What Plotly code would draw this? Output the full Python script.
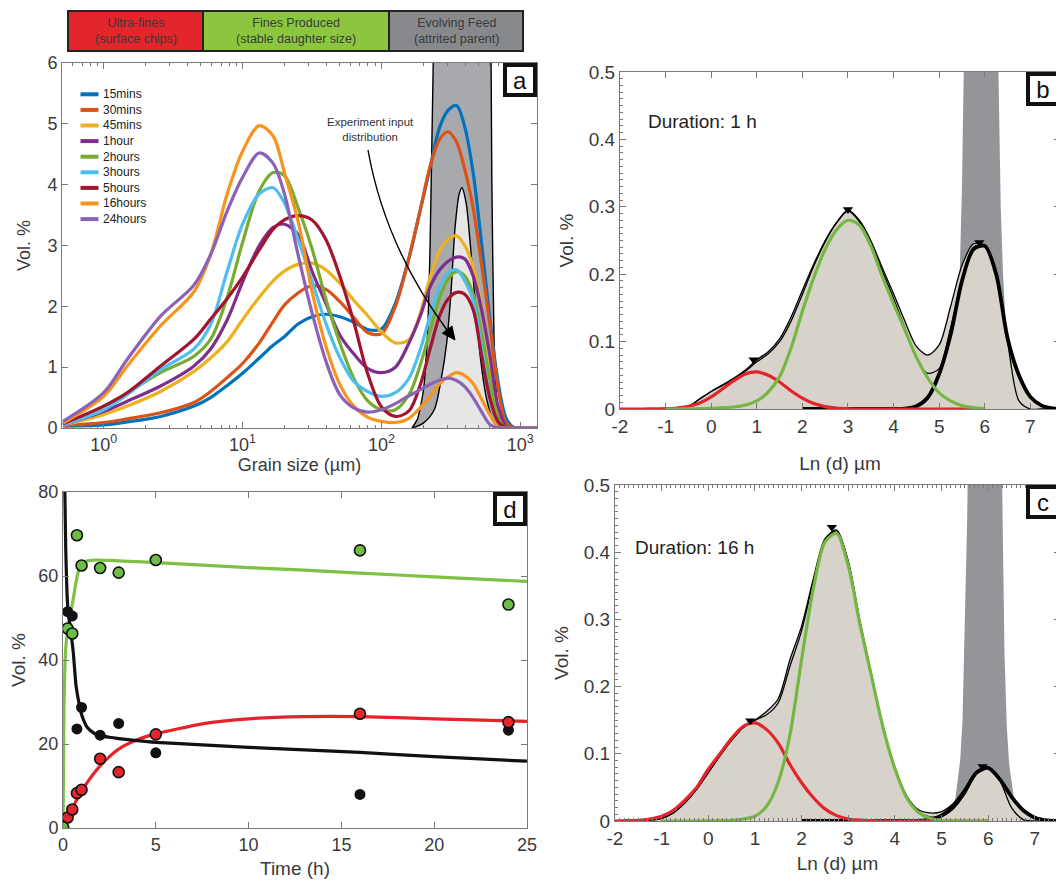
import plotly.graph_objects as go

# ---------------- Panel a : grain size distributions ----------------
GRAIN_UM = [0.51, 1.0, 1.48, 2.57, 4.47, 5.89, 7.76, 10.0, 13.2, 16.6, 20.0, 25.1, 31.6, 39.8, 50.1,
            63.1, 79.4, 100, 126, 158, 191, 224, 263, 302, 347, 398, 457, 525, 603, 692, 794, 912, 1318]
SERIES_NAMES = ["15mins", "30mins", "45mins", "1hour", "2hours", "3hours", "5hours", "16hours", "24hours"]
SERIES_COLORS = ["#0072BD", "#D95319", "#EDB120", "#7E2F8E", "#77AC30", "#4DBEEE", "#A2142F", "#F7941D", "#8B62B5"]
VOL_15MIN = [0.03, 0.05, 0.1, 0.19, 0.36, 0.5, 0.7, 0.9, 1.15, 1.36, 1.5, 1.71, 1.83, 1.87, 1.83, 1.74, 1.62, 1.63,
             2.05, 2.8, 3.6, 4.28, 4.95, 5.22, 5.3, 4.95, 4.2, 3.05, 1.8, 0.75, 0.15, 0.0, 0.0]
VOL_30MIN = [0.04, 0.09, 0.15, 0.25, 0.42, 0.6, 0.83, 1.06, 1.4, 1.75, 2.02, 2.22, 2.34, 2.28, 2.08, 1.82, 1.57, 1.55,
             2.0, 2.8, 3.6, 4.3, 4.75, 4.87, 4.7, 4.25, 3.62, 2.7, 1.7, 0.65, 0.08, 0.0, 0.0]
VOL_45MIN = [0.05, 0.22, 0.36, 0.6, 0.93, 1.15, 1.42, 1.78, 2.15, 2.42, 2.58, 2.69, 2.71, 2.6, 2.38, 2.1, 1.85, 1.58,
             1.4, 1.45, 1.9, 2.48, 2.92, 3.1, 3.16, 3.0, 2.65, 2.0, 1.1, 0.3, 0.03, 0.0, 0.0]
VOL_1H = [0.05, 0.27, 0.44, 0.69, 1.02, 1.3, 1.78, 2.4, 3.0, 3.3, 3.35, 3.18, 2.58, 2.05, 1.53, 1.22, 0.98, 0.91,
          1.0, 1.4, 1.85, 2.32, 2.6, 2.74, 2.81, 2.78, 2.5, 1.95, 1.2, 0.35, 0.03, 0.0, 0.0]
VOL_2H = [0.05, 0.36, 0.58, 0.91, 1.18, 1.46, 2.15, 3.05, 3.9, 4.2, 4.15, 3.62, 2.95, 2.12, 1.4, 0.82, 0.45, 0.3,
          0.3, 0.55, 1.05, 1.6, 2.15, 2.45, 2.57, 2.5, 2.2, 1.55, 0.8, 0.15, 0.01, 0.0, 0.0]
VOL_3H = [0.05, 0.3, 0.55, 0.96, 1.3, 1.7, 2.58, 3.35, 3.85, 3.95, 3.7, 3.1, 2.42, 1.72, 1.16, 0.77, 0.6, 0.52,
          0.58, 0.82, 1.3, 1.85, 2.32, 2.55, 2.6, 2.42, 2.1, 1.35, 0.5, 0.05, 0.0, 0.0, 0.0]
VOL_5H = [0.07, 0.36, 0.58, 1.02, 1.46, 1.79, 2.13, 2.48, 2.93, 3.27, 3.42, 3.49, 3.42, 3.1, 2.5, 1.75, 0.9, 0.35,
          0.19, 0.28, 0.72, 1.3, 1.85, 2.12, 2.23, 2.2, 1.95, 1.2, 0.5, 0.1, 0.01, 0.0, 0.0]
VOL_16H = [0.08, 0.52, 1.02, 1.68, 2.24, 2.85, 3.85, 4.55, 4.97, 4.8, 4.2, 3.4, 2.25, 1.35, 0.72, 0.36, 0.18, 0.11,
           0.09, 0.16, 0.34, 0.52, 0.73, 0.84, 0.91, 0.86, 0.73, 0.48, 0.22, 0.02, 0.0, 0.0, 0.0]
VOL_24H = [0.11, 0.58, 1.13, 1.84, 2.35, 2.85, 3.57, 4.12, 4.52, 4.35, 3.85, 2.85, 1.9, 1.1, 0.55, 0.33, 0.26, 0.3,
           0.4, 0.53, 0.63, 0.72, 0.79, 0.82, 0.78, 0.68, 0.5, 0.27, 0.06, 0.0, 0.0, 0.0, 0.0]
SERIES_VALUES = [VOL_15MIN, VOL_30MIN, VOL_45MIN, VOL_1H, VOL_2H, VOL_3H, VOL_5H, VOL_16H, VOL_24H]

FEED_UM = [166, 182, 200, 214, 224, 234, 245, 282, 398, 550, 603, 624, 646, 676, 724, 759]
FEED_VOL = [0, 0.15, 0.6, 1.5, 3, 5.5, 7.5, 8.5, 9, 8.5, 7.5, 4, 1.5, 0.5, 0.05, 0]
INPUT_UM = [166, 200, 240, 269, 295, 316, 339, 363, 380, 407, 437, 468, 513, 575, 646, 724]
INPUT_VOL = [0, 0.08, 0.3, 0.8, 1.4, 2.2, 3.3, 3.85, 3.95, 3.7, 3.0, 2.2, 1.2, 0.45, 0.1, 0]
LOG_MINOR_TICKS = [0.6, 0.7, 0.8, 0.9, 2, 3, 4, 5, 6, 7, 8, 9, 20, 30, 40, 50, 60, 70, 80, 90,
                   200, 300, 400, 500, 600, 700, 800, 900]

# ---------------- Panels b, c : Ln(d) decompositions ----------------
X_LN = [-2.0, -1.75, -1.5, -1.25, -1.0, -0.75, -0.5, -0.25, 0.0, 0.25, 0.5, 0.75, 1.0, 1.25, 1.5, 1.75, 2.0,
        2.25, 2.5, 2.75, 3.0, 3.25, 3.5, 3.75, 4.0, 4.25, 4.5, 4.75, 5.0, 5.25, 5.5, 5.75, 6.0, 6.25, 6.5,
        6.75, 7.0, 7.25, 7.5, 7.75]
N = None
RED_B = [0, 0, 0, 0.0002, 0.0005, 0.0015, 0.004, 0.009, 0.018, 0.03, 0.042, 0.052, 0.055, 0.05, 0.04, 0.027,
         0.016, 0.008, 0.0035, 0.0012, 0.0003, 0, 0, 0, 0, 0, 0, 0, 0, 0, 0, 0, 0, N, N, N, N, N, N, N]
GREEN_B = [N, N, N, N, 0, 0, 0.0002, 0.0005, 0.001, 0.002, 0.003, 0.006, 0.012, 0.025, 0.048, 0.09, 0.145,
           0.195, 0.237, 0.266, 0.28, 0.273, 0.242, 0.197, 0.156, 0.117, 0.077, 0.046, 0.024, 0.012, 0.005,
           0.002, 0.0005, N, N, N, N, N, N, N]
BLACK_B = [N, N, N, N, N, N, N, N, N, N, N, N, N, N, N, N, 0, 0, 0, 0, 0, 0, 0, 0, 0, 0.0005, 0.004, 0.017,
           0.052, 0.11, 0.19, 0.237, 0.242, 0.2, 0.105, 0.05, 0.018, 0.005, 0.001, 0]
ENV_B1 = [0, 0, 0, 0, 0.0005, 0.002, 0.004, 0.015, 0.026, 0.036, 0.046, 0.058, 0.073, 0.085, 0.104, 0.136,
          0.176, 0.215, 0.25, 0.277, 0.295, 0.28, 0.25, 0.21, 0.171, 0.13, 0.093, 0.08, 0.095, 0.152, 0.213,
          0.245, 0.242, 0.2, 0.105, 0.05, 0.018, 0.005, 0.001, 0]
ENV_B2 = [0, 0, 0, 0, 0.0005, 0.002, 0.004, 0.015, 0.026, 0.035, 0.044, 0.056, 0.07, 0.082, 0.1, 0.13, 0.17,
          0.212, 0.248, 0.276, 0.294, 0.278, 0.245, 0.205, 0.164, 0.12, 0.075, 0.053, 0.06, 0.12, 0.19, 0.24,
          0.242, 0.2, 0.1, 0.012, 0, 0, 0, 0]
PEAKS_B_X = [0.93, 3.0, 5.88]
PEAKS_B_Y = [0.073, 0.296, 0.247]
BAND_B_X = [5.1, 5.2, 5.3, 5.4, 5.45, 5.5, 5.55, 5.6, 5.75, 5.92, 6.1, 6.25, 6.3, 6.35, 6.4, 6.45, 6.5, 6.6, 6.7, 6.8]
BAND_B_Y = [0, 0.01, 0.05, 0.14, 0.2, 0.33, 0.55, 0.8, 1.0, 1.05, 1.0, 0.8, 0.5, 0.3, 0.2, 0.14, 0.1, 0.04, 0.01, 0]

RED_C = [0, 0.0005, 0.001, 0.003, 0.007, 0.016, 0.031, 0.05, 0.077, 0.1, 0.123, 0.141, 0.146, 0.136, 0.116,
         0.084, 0.057, 0.035, 0.018, 0.008, 0.003, 0.0015, 0.0005, 0, 0, 0, 0, 0, 0, 0, 0, 0, 0,
         N, N, N, N, N, N, N]
GREEN_C = [N, N, N, N, 0, 0, 0, 0, 0.0002, 0.0005, 0.001, 0.003, 0.007, 0.022, 0.058, 0.128, 0.24, 0.345,
           0.415, 0.428, 0.38, 0.293, 0.215, 0.138, 0.078, 0.035, 0.013, 0.004, 0.001, 0, 0, 0, 0,
           N, N, N, N, N, N, N]
BLACK_C = [N, N, N, N, N, N, N, N, N, N, N, N, N, N, N, N, 0, 0, 0, 0, 0, 0, 0, 0, 0, 0, 0, 0.002, 0.008,
           0.022, 0.045, 0.072, 0.079, 0.062, 0.036, 0.016, 0.005, 0.001, 0, 0]
ENV_C1 = [0, 0, 0, 0.001, 0.004, 0.012, 0.027, 0.047, 0.072, 0.097, 0.12, 0.139, 0.15, 0.163, 0.182, 0.24,
          0.29, 0.36, 0.42, 0.433, 0.387, 0.298, 0.218, 0.14, 0.08, 0.038, 0.017, 0.012, 0.014, 0.026, 0.048,
          0.074, 0.08, 0.064, 0.038, 0.017, 0.006, 0.002, 0, 0]
ENV_C2 = [0, 0, 0, 0.001, 0.004, 0.012, 0.027, 0.047, 0.072, 0.097, 0.12, 0.139, 0.15, 0.158, 0.176, 0.23,
          0.283, 0.355, 0.418, 0.432, 0.385, 0.296, 0.216, 0.138, 0.079, 0.037, 0.014, 0.006, 0.007, 0.018,
          0.04, 0.07, 0.079, 0.06, 0.02, 0.002, 0, 0, 0, 0]
PEAKS_C_X = [0.9, 2.65, 5.88]
PEAKS_C_Y = [0.149, 0.437, 0.081]
BAND_C_X = [5.1, 5.2, 5.3, 5.4, 5.45, 5.5, 5.55, 5.6, 5.75, 5.93, 6.1, 6.25, 6.3, 6.35, 6.4, 6.45, 6.5, 6.55,
            6.6, 6.65, 6.7]
BAND_C_Y = [0, 0.005, 0.035, 0.09, 0.15, 0.28, 0.45, 0.7, 0.95, 1.0, 0.95, 0.7, 0.5, 0.25, 0.14, 0.085, 0.06,
            0.035, 0.012, 0.002, 0]

# ---------------- Panel d : time evolution ----------------
TIME_PTS = [0, 0.25, 0.5, 0.75, 1, 2, 3, 5, 16, 24]
FINES_PTS = [0.2, 47.5, 46.3, 69.7, 62.5, 61.9, 60.8, 63.8, 66.1, 53.2]
ULTRA_PTS = [0, 2.5, 4.4, 8.3, 9.1, 16.5, 13.3, 22.3, 27.2, 25.2]
FEED_PTS = [100, 51.5, 50.5, 23.6, 28.7, 22.1, 24.9, 17.9, 8.0, 23.3]
T_FIT = [0, 0.05, 0.1, 0.15, 0.25, 0.4, 0.55, 0.7, 0.85, 1.0, 1.3, 1.7, 2.0, 2.5, 3, 4, 5, 7.5, 10, 13, 16, 20, 25]
FEED_FIT = [100, 92, 80, 66, 53, 47.5, 42, 34, 30, 27, 24, 22.5, 22, 21.6, 21.3, 20.8, 20.4, 19.8, 19.2, 18.6,
            18.0, 17.0, 15.9]
FINES_FIT = [0, 28, 38, 43, 47, 51, 54.5, 58.5, 61.5, 63.0, 63.6, 63.8, 63.8, 63.7, 63.6, 63.4, 63.2, 62.6,
             62.0, 61.4, 60.7, 59.8, 58.7]
ULTRA_FIT = [0, 0.5, 1.0, 1.6, 2.6, 3.9, 5.1, 6.4, 7.6, 8.8, 10.8, 13.2, 14.8, 17.0, 18.8, 21.0, 22.4, 24.8,
             26.0, 26.5, 26.5, 26.0, 25.4]

# ---------------- Category bar ----------------
CATEGORY_LABELS = ["Ultra-fines<br>(surface chips)", "Fines Produced<br>(stable daughter size)",
                   "Evolving Feed<br>(attrited parent)"]
CATEGORY_COLORS = ["#E2262B", "#8CC63F", "#88898C"]

# page is 1064x881; the html body adds an 8 px margin, so the figure is 8 px smaller each way
PAGE_OFF = 8
W, H = 1064 - PAGE_OFF, 881 - PAGE_OFF
FONT = "Liberation Sans, Arial, Helvetica, sans-serif"
TXT = "#3a3a3a"
RED = "#E5232A"
GREEN = "#74B843"
BEIGE = "#D7D3CB"
BAND = "#939598"

fig = go.Figure()

# ---- panel a traces
fig.add_trace(go.Scatter(x=FEED_UM, y=FEED_VOL, mode="lines", fill="tozeroy", fillcolor="#A7A9AC",
                         line=dict(color="black", width=1.4, shape="spline", smoothing=0.5),
                         showlegend=False, xaxis="x", yaxis="y", hoverinfo="skip"))
fig.add_trace(go.Scatter(x=INPUT_UM, y=INPUT_VOL, mode="lines", fill="tozeroy", fillcolor="#E6E6E6",
                         line=dict(color="black", width=1.4, shape="spline", smoothing=0.8),
                         showlegend=False, xaxis="x", yaxis="y", hoverinfo="skip"))
for name, col, vals in zip(SERIES_NAMES, SERIES_COLORS, SERIES_VALUES):
    fig.add_trace(go.Scatter(x=GRAIN_UM, y=vals, mode="lines", name=name,
                             line=dict(color=col, width=3.2, shape="spline", smoothing=0.9),
                             xaxis="x", yaxis="y", showlegend=False))


def decomposition(xa, ya, band_x, band_y, env1, env2, black, red, green, px, py):
    fig.add_trace(go.Scatter(x=band_x, y=band_y, mode="lines", fill="tozeroy", fillcolor=BAND,
                             line=dict(width=0, color=BAND), showlegend=False, xaxis=xa, yaxis=ya))
    fig.add_trace(go.Scatter(x=X_LN, y=env1, mode="lines", fill="tozeroy", fillcolor=BEIGE,
                             line=dict(width=0, color=BEIGE, shape="spline", smoothing=0.8),
                             showlegend=False, xaxis=xa, yaxis=ya))
    for env in (env1, env2):
        fig.add_trace(go.Scatter(x=X_LN, y=env, mode="lines",
                                 line=dict(color="black", width=1.3, shape="spline", smoothing=0.8),
                                 showlegend=False, xaxis=xa, yaxis=ya))
    fig.add_trace(go.Scatter(x=X_LN, y=black, mode="lines",
                             line=dict(color="black", width=3.8, shape="spline", smoothing=0.8),
                             showlegend=False, xaxis=xa, yaxis=ya))
    fig.add_trace(go.Scatter(x=X_LN, y=red, mode="lines",
                             line=dict(color=RED, width=3.2, shape="spline", smoothing=0.8),
                             showlegend=False, xaxis=xa, yaxis=ya))
    fig.add_trace(go.Scatter(x=X_LN, y=green, mode="lines",
                             line=dict(color=GREEN, width=3.2, shape="spline", smoothing=0.8),
                             showlegend=False, xaxis=xa, yaxis=ya))
    fig.add_trace(go.Scatter(x=px, y=py, mode="markers",
                             marker=dict(symbol="triangle-down", size=9, color="black"),
                             showlegend=False, xaxis=xa, yaxis=ya))


decomposition("x2", "y2", BAND_B_X, BAND_B_Y, ENV_B1, ENV_B2, BLACK_B, RED_B, GREEN_B, PEAKS_B_X, PEAKS_B_Y)
decomposition("x3", "y3", BAND_C_X, BAND_C_Y, ENV_C1, ENV_C2, BLACK_C, RED_C, GREEN_C, PEAKS_C_X, PEAKS_C_Y)

# ---- panel d traces
fig.add_trace(go.Scatter(x=T_FIT, y=FINES_FIT, mode="lines", line=dict(color="#7DC242", width=3.2, shape="spline", smoothing=0.6),
                         showlegend=False, xaxis="x4", yaxis="y4"))
fig.add_trace(go.Scatter(x=T_FIT, y=ULTRA_FIT, mode="lines", line=dict(color=RED, width=3.2, shape="spline", smoothing=0.6),
                         showlegend=False, xaxis="x4", yaxis="y4"))
fig.add_trace(go.Scatter(x=T_FIT, y=FEED_FIT, mode="lines", line=dict(color="#111111", width=3.2, shape="spline", smoothing=0.6),
                         showlegend=False, xaxis="x4", yaxis="y4"))
fig.add_trace(go.Scatter(x=TIME_PTS, y=FEED_PTS, mode="markers", marker=dict(size=11, color="#111111"),
                         showlegend=False, xaxis="x4", yaxis="y4"))
fig.add_trace(go.Scatter(x=TIME_PTS, y=ULTRA_PTS, mode="markers",
                         marker=dict(size=11, color="#E4262C", line=dict(color="#111111", width=1.6)),
                         showlegend=False, xaxis="x4", yaxis="y4"))
fig.add_trace(go.Scatter(x=TIME_PTS, y=FINES_PTS, mode="markers",
                         marker=dict(size=11, color="#6CBD45", line=dict(color="#111111", width=1.6)),
                         showlegend=False, xaxis="x4", yaxis="y4"))

# ---- axes
def px2x(p):
    return (p - PAGE_OFF) / W


def px2y(p):
    return 1 - (p - PAGE_OFF) / H


AXC = "#7a7a7a"


def axis(**kw):
    base = dict(showline=True, linecolor=AXC, linewidth=1, mirror="ticks", ticks="inside", ticklen=6,
                tickcolor=AXC, showgrid=False, zeroline=False, automargin=False,
                tickfont=dict(size=18, color=TXT, family=FONT))
    base.update(kw)
    return base


LN_TICKS = [-2, -1, 0, 1, 2, 3, 4, 5, 6, 7]
LN_TEXT = ["-2", "-1", "0", "1", "2", "3", "4", "5", "6", "7"]

fig.update_layout(
    width=W, height=H, margin=dict(l=0, r=0, t=0, b=0, pad=0, autoexpand=False),
    paper_bgcolor="white", plot_bgcolor="white", showlegend=False,
    font=dict(family=FONT, color=TXT),
    xaxis=axis(domain=[px2x(62), px2x(537)], type="log", range=[-0.30, 3.12], anchor="y",
               tickvals=[1, 10, 100, 1000],
               ticktext=["10<sup>0</sup>", "10<sup>1</sup>", "10<sup>2</sup>", "10<sup>3</sup>"],
               minor=dict(ticks="inside", ticklen=3, tickcolor=AXC, tickmode="array",
                          tickvals=LOG_MINOR_TICKS),
               title=dict(text="Grain size (µm)", font=dict(size=18, color=TXT), standoff=1)),
    yaxis=axis(domain=[px2y(428), px2y(63)], range=[0, 6], dtick=1, anchor="x",
               title=dict(text="Vol. %", font=dict(size=18, color=TXT), standoff=12)),
    xaxis2=axis(domain=[px2x(620), px2x(1060)], range=[-2, 7.65], anchor="y2",
                tickvals=LN_TICKS, ticktext=LN_TEXT, tickfont=dict(size=19, color=TXT),
                title=dict(text="Ln (d) µm", font=dict(size=19, color=TXT), standoff=20)),
    yaxis2=axis(domain=[px2y(409), px2y(72)], range=[0, 0.5], dtick=0.1, anchor="x2",
                tickfont=dict(size=19, color=TXT),
                minor=dict(ticks="inside", ticklen=3, dtick=0.01, tickcolor=AXC),
                title=dict(text="Vol. %", font=dict(size=19, color=TXT), standoff=10)),
    xaxis3=axis(domain=[px2x(615), px2x(1060)], range=[-2, 7.54], anchor="y3",
                tickvals=LN_TICKS, ticktext=LN_TEXT, tickfont=dict(size=19, color=TXT),
                minor=dict(ticks="inside", ticklen=3, dtick=0.1, tickcolor=AXC),
                title=dict(text="Ln (d) µm", font=dict(size=19, color=TXT), standoff=8)),
    yaxis3=axis(domain=[px2y(821), px2y(485)], range=[0, 0.5], dtick=0.1, anchor="x3",
                tickfont=dict(size=19, color=TXT),
                minor=dict(ticks="inside", ticklen=3, dtick=0.01, tickcolor=AXC),
                title=dict(text="Vol. %", font=dict(size=19, color=TXT), standoff=10)),
    xaxis4=axis(domain=[px2x(63), px2x(527)], range=[0, 25], dtick=5, anchor="y4",
                title=dict(text="Time (h)", font=dict(size=19, color=TXT), standoff=8)),
    yaxis4=axis(domain=[px2y(828), px2y(492)], range=[0, 80], dtick=20, anchor="x4",
                title=dict(text="Vol. %", font=dict(size=19, color=TXT), standoff=12)),
)

shapes = []
annotations = []

# legend for panel a (compact, drawn as keys + labels)
for i, (name, col) in enumerate(zip(SERIES_NAMES, SERIES_COLORS)):
    yk = 94.3 + 15.6 * i
    shapes.append(dict(type="line", xref="paper", yref="paper", x0=px2x(80.5), x1=px2x(98.5),
                       y0=px2y(yk), y1=px2y(yk), line=dict(color=col, width=4)))
    annotations.append(dict(text=name, xref="paper", yref="paper", x=px2x(100.5), y=px2y(yk),
                            xanchor="left", yanchor="middle", showarrow=False,
                            font=dict(size=12, color="#222", family=FONT)))

# category bar
bar_edges = [68, 203, 389, 523]
for i, (lab, col) in enumerate(zip(CATEGORY_LABELS, CATEGORY_COLORS)):
    x0, x1 = bar_edges[i], bar_edges[i + 1]
    shapes.append(dict(type="rect", xref="paper", yref="paper", x0=px2x(x0), x1=px2x(x1),
                       y0=px2y(51), y1=px2y(11), fillcolor=col, line=dict(color="#222", width=2)))
    annotations.append(dict(text=lab, xref="paper", yref="paper", x=px2x((x0 + x1) / 2), y=px2y(31),
                            showarrow=False, font=dict(size=12.5, color="#3a3a3a", family=FONT),
                            xanchor="center", yanchor="middle"))

# panel letters
for letter, xr, yr in [("a", "x domain", "y domain"), ("b", "x2 domain", "y2 domain"),
                       ("c", "x3 domain", "y3 domain"), ("d", "x4 domain", "y4 domain")]:
    annotations.append(dict(text=letter, xref=xr, yref=yr, x=1, y=1, xanchor="right", yanchor="top",
                            showarrow=False, font=dict(size=24, color="#111", family=FONT),
                            bgcolor="white", bordercolor="#111", borderwidth=4, borderpad=0,
                            width=26, height=26))

# durations
annotations.append(dict(text="Duration: 1 h", xref="x2 domain", yref="y2 domain", x=0.06, y=0.852,
                        xanchor="left", yanchor="middle", showarrow=False,
                        font=dict(size=19, color="#222", family=FONT)))
annotations.append(dict(text="Duration: 16 h", xref="x3 domain", yref="y3 domain", x=0.04, y=0.814,
                        xanchor="left", yanchor="middle", showarrow=False,
                        font=dict(size=19, color="#222", family=FONT)))

# experiment input label + curved arrow with filled head
annotations.append(dict(text="Experiment input<br>distribution", xref="paper", yref="paper",
                        x=px2x(370), y=px2y(130), xanchor="center", yanchor="middle", showarrow=False,
                        font=dict(size=11.5, color="#333", family=FONT)))
shapes.append(dict(type="path", xref="paper", yref="paper",
                   path=f"M {px2x(368)},{px2y(150)} Q {px2x(385)},{px2y(246)} {px2x(447)},{px2y(330)}",
                   line=dict(color="black", width=1.4)))
shapes.append(dict(type="path", xref="paper", yref="paper",
                   path=(f"M {px2x(455)},{px2y(340)} L {px2x(442.4)},{px2y(333.2)} "
                         f"L {px2x(452.0)},{px2y(326.0)} Z"),
                   fillcolor="black", line=dict(color="black", width=1)))

fig.update_layout(shapes=shapes, annotations=annotations)

fig.write_html("out.html")
